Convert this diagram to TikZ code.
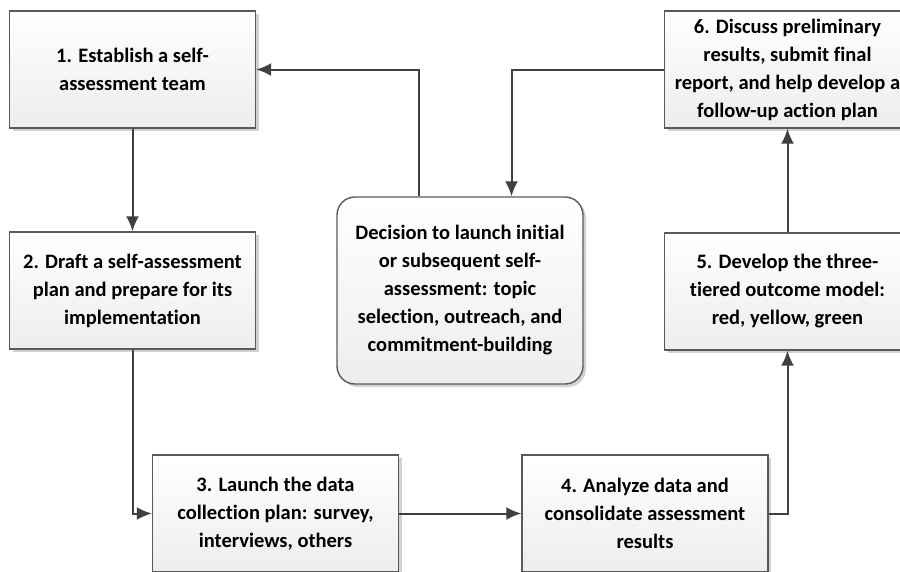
\documentclass[tikz,border=0pt]{standalone}
\usepackage{fontspec}
\setmainfont[Ligatures=NoCommon]{Carlito}
\usetikzlibrary{arrows.meta,shadows}
\definecolor{linec}{HTML}{404040}
\definecolor{boxline}{HTML}{5A5A5A}
\tikzset{
  boxbase/.style={draw=boxline, line width=1.4pt, top color=white, bottom color=gray!14,
    drop shadow={shadow xshift=3pt, shadow yshift=-3pt, fill=gray!35, opacity=1},
    align=center, font=\bfseries\fontsize{20.5}{28}\selectfont, inner sep=0pt},
  stepbox/.style={boxbase, minimum width=246pt, minimum height=117pt},
  decbox/.style={boxbase, rounded corners=18pt, minimum width=246pt, minimum height=187pt},
  conn/.style={draw=linec, line width=2pt},
  arr/.style={conn, -{Latex[length=15pt,width=13pt]}}
}
\begin{document}
\begin{tikzpicture}[x=1pt,y=-1pt]
\useasboundingbox (0,0) rectangle (900,571);
\clip (0,0) rectangle (900,571);
\node[stepbox] (b1) at (132.5,69.5) {1. Establish a self-\\assessment team};
\node[stepbox] (b2) at (132.5,290.5) {2. Draft a self-assessment\\plan and prepare for its\\implementation};
\node[stepbox] (b3) at (275.5,513.5) {3. Launch the data\\collection plan: survey,\\interviews, others};
\node[stepbox] (b4) at (645,513.5) {4. Analyze data and\\consolidate assessment\\results};
\node[stepbox] (b5) at (787.5,291.5) {5. Develop the three-\\tiered outcome model:\\red, yellow, green};
\node[stepbox] (b6) at (787.5,69.5) {6. Discuss preliminary\\results, submit final\\report, and help develop a\\follow-up action plan};
\node[decbox] (dec) at (460,290.5) {Decision to launch initial\\or subsequent self-\\assessment: topic\\selection, outreach, and\\commitment-building};
\coordinate (c1) at (419,0);
\coordinate (c2) at (511.5,0);
\draw[arr] (dec.north -| c1) |- (b1.east);
\draw[arr] (b6.west) -| (dec.north -| c2);
\draw[arr] (b1.south) -- (b2.north);
\draw[arr] (b2.south) |- (b3.west);
\draw[arr] (b3.east) -- (b4.west);
\draw[arr] (b4.east) -| (b5.south);
\draw[arr] (b5.north) -- (b6.south);
\end{tikzpicture}
\end{document}
